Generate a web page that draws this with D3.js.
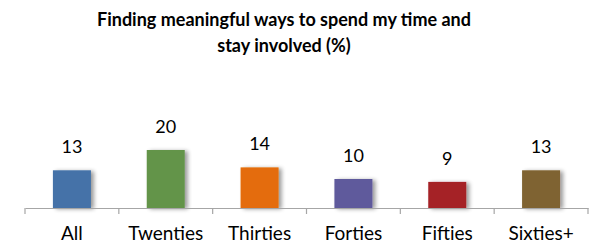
<!DOCTYPE html>
<html>
<head>
<meta charset="utf-8">
<script src="https://cdn.jsdelivr.net/npm/d3@7"></script>
<style>
  body { margin: 0; background: #fff; }
  text { font-family: "Lato", "Open Sans", sans-serif; fill: #000; }
</style>
</head>
<body>
<div id="chart"></div>
<script>
// Data
const categories = ["All", "Twenties", "Thirties", "Forties", "Fifties", "Sixties+"];
const values = [13, 20, 14, 10, 9, 13];
const barColors = ["#4472A8", "#64944A", "#E46C0A", "#5F5A9C", "#A52326", "#7F6330"];
const titleLines = ["Finding meaningful ways to spend my time and", "stay involved (%)"];

const W = 589, H = 244;
const baseY = 208;

const svg = d3.select("#chart").append("svg")
    .attr("width", W)
    .attr("height", H);

// soft drop shadow like the original
const defs = svg.append("defs");
const f = defs.append("filter").attr("id", "shadow")
    .attr("x", "-20%").attr("y", "-20%").attr("width", "160%").attr("height", "140%");
f.append("feGaussianBlur").attr("in", "SourceAlpha").attr("stdDeviation", 2);
f.append("feOffset").attr("dx", 3).attr("dy", 1).attr("result", "blur");
f.append("feComponentTransfer").append("feFuncA").attr("type", "linear").attr("slope", 0.4);
const merge = f.append("feMerge");
merge.append("feMergeNode");
merge.append("feMergeNode").attr("in", "SourceGraphic");

// Scales
const x = d3.scaleBand()
    .domain(categories)
    .range([25, 588])
    .padding(0);

const y = d3.scaleLinear()
    .domain([0, 25])
    .range([baseY, baseY - 72.5]);

const color = d3.scaleOrdinal().domain(categories).range(barColors);

const data = categories.map((c, i) => ({cat: c, val: values[i]}));
const barW = x.bandwidth() * 0.405;

// Title
svg.append("text")
    .attr("x", 284)
    .attr("text-anchor", "middle")
    .attr("font-weight", "bold")
    .attr("font-size", 18)
  .selectAll("tspan")
  .data(titleLines)
  .enter().append("tspan")
    .attr("x", 284)
    .attr("y", (d, i) => 26 + i * 26)
    .text(d => d);

// Bars
svg.selectAll("rect.bar")
  .data(data)
  .enter().append("rect")
    .attr("class", "bar")
    .attr("x", d => x(d.cat) + x.bandwidth() / 2 - barW / 2)
    .attr("y", d => y(d.val))
    .attr("width", barW)
    .attr("height", d => baseY - y(d.val))
    .attr("fill", d => color(d.cat))
    .attr("filter", "url(#shadow)");

// Value labels
svg.selectAll("text.val")
  .data(data)
  .enter().append("text")
    .attr("class", "val")
    .attr("x", d => x(d.cat) + x.bandwidth() / 2)
    .attr("y", d => y(d.val) - 17)
    .attr("text-anchor", "middle")
    .attr("font-size", 18)
    .text(d => d.val);

// Axis
const axis = svg.append("g")
    .attr("transform", `translate(0,${baseY})`)
    .call(d3.axisBottom(x).tickSize(0).tickFormat(""));
axis.select(".domain").attr("stroke", "#a6a6a6").attr("stroke-width", 1.2);

// tick marks at band boundaries
const bounds = categories.map(c => x(c)).concat([x.range()[1]]);
axis.selectAll("line.bound")
  .data(bounds)
  .enter().append("line")
    .attr("class", "bound")
    .attr("x1", d => d).attr("x2", d => d)
    .attr("y1", 0).attr("y2", 6)
    .attr("stroke", "#a6a6a6")
    .attr("stroke-width", 1.2);

// Category labels
svg.selectAll("text.cat")
  .data(categories)
  .enter().append("text")
    .attr("class", "cat")
    .attr("x", d => x(d) + x.bandwidth() / 2)
    .attr("y", 240)
    .attr("text-anchor", "middle")
    .attr("font-size", 19)
    .text(d => d);
</script>
</body>
</html>
